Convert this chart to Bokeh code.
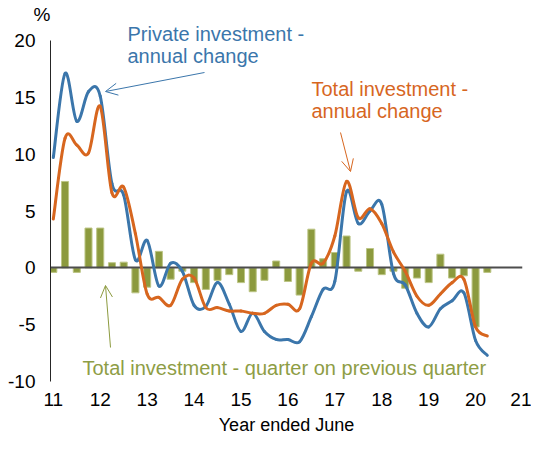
import numpy as np
from bokeh.plotting import figure
from bokeh.models import Range1d, FixedTicker, Label, Arrow, OpenHead, Title
from bokeh.embed import file_html
from bokeh.resources import INLINE

# ---------------- data ----------------
quarters = [11.0, 11.25, 11.5, 11.75, 12.0, 12.25, 12.5, 12.75,
            13.0, 13.25, 13.5, 13.75, 14.0, 14.25, 14.5, 14.75,
            15.0, 15.25, 15.5, 15.75, 16.0, 16.25, 16.5, 16.75,
            17.0, 17.25, 17.5, 17.75, 18.0, 18.25, 18.5, 18.75,
            19.0, 19.25, 19.5, 19.75, 20.0, 20.25]

# Total investment - quarter on previous quarter (%)
total_qoq = [-0.4, 7.6, -0.4, 3.5, 3.5, 0.45, 0.5, -2.2,
             -1.7, 1.45, -1.0, -0.3, -1.3, -1.9, -1.1, -0.6,
             -1.3, -2.1, -1.1, 0.6, -1.2, -2.4, 3.4, 0.8,
             1.35, 2.8, -0.3, 1.7, -0.6, -0.3, -1.8, -0.9,
             -1.3, 1.2, -0.9, -0.7, -5.2, -0.4]

# Private investment - annual change (%)
private_annual = [9.7, 17.1, 12.9, 15.5, 15.1, 7.4, 6.4, 0.7,
                  2.4, -1.6, 0.4, -0.3, -3.3, -3.4, -1.3, -3.2,
                  -5.6, -4.0, -5.6, -6.3, -6.3, -6.5, -4.3, -1.9,
                  -1.2, 6.7, 3.9, 5.0, 5.6, -0.5, -1.5, -4.0,
                  -5.2, -3.6, -2.9, -2.2, -6.4, -7.7]

# Total investment - annual change (%)
total_annual = [4.3, 11.4, 10.8, 10.1, 14.2, 6.6, 7.1, 3.0,
                -2.3, -2.6, -3.3, -1.0, -0.9, -3.5, -3.5, -3.8,
                -3.8, -4.0, -4.0, -3.3, -3.2, -3.6, 0.4, 0.4,
                2.8, 7.6, 4.4, 5.2, 3.9, 1.4, -0.3, -2.5,
                -3.3, -2.3, -1.3, -1.0, -5.2, -6.0]

x_ticks = [11, 12, 13, 14, 15, 16, 17, 18, 19, 20, 21]
y_ticks = [-10, -5, 0, 5, 10, 15, 20]

# ---------------- style / layout ----------------
BLUE = "#3B76AB"
ORANGE = "#D7661F"
GREEN = "#8C9A3E"
GREEN_TXT = "#8E9D45"
FONT = "Liberation Sans"

W, H = 531, 438
FL, FR = 50, 522          # frame left / right (px)
FT, FB = 24, 381          # frame top / bottom (px)
X0, X1 = 10.94, 21.0
Y20_PX = 40               # pixel row of the 20% level
PX_PER_UNIT = (FB - Y20_PX) / 30.0
Y0 = -10
Y1 = 20 + (Y20_PX - FT) / PX_PER_UNIT


def dx(px):
    return X0 + (px - FL) * (X1 - X0) / (FR - FL)


def dy(py):
    return 20 - (py - Y20_PX) / PX_PER_UNIT


def smooth_segments(xs, ys):
    """Bezier control points (Excel-like smoothing) passing through the data points."""
    x = np.asarray(xs, float)
    y = np.asarray(ys, float)
    n = len(x)
    xp = np.concatenate([[x[0]], x, [x[-1]]])
    yp = np.concatenate([[y[0]], y, [y[-1]]])
    cx0 = x[:-1] + (xp[2:n + 1] - xp[0:n - 1]) / 6.0
    cy0 = y[:-1] + (yp[2:n + 1] - yp[0:n - 1]) / 6.0
    cx1 = x[1:] - (xp[3:n + 2] - xp[1:n]) / 6.0
    cy1 = y[1:] - (yp[3:n + 2] - yp[1:n]) / 6.0
    return dict(x0=x[:-1], y0=y[:-1], x1=x[1:], y1=y[1:],
                cx0=cx0, cy0=cy0, cx1=cx1, cy1=cy1)


p = figure(width=W, height=H,
           x_range=Range1d(X0, X1), y_range=Range1d(Y0, Y1),
           output_backend="svg", toolbar_location=None,
           min_border_left=FL, min_border_right=W - FR,
           min_border_top=FT, min_border_bottom=H - FB)
p.outline_line_color = None
p.grid.visible = False
p.background_fill_color = "white"
p.border_fill_color = "white"

# "%" unit label as a title above the frame
p.title = Title(text="%", align="left", offset=-17, standoff=0,
                text_font=FONT, text_font_size="19px",
                text_font_style="normal", text_color="black")

# bars
p.vbar(x=quarters, top=total_qoq, bottom=0, width=0.15,
       fill_color=GREEN, line_color="#BCC585", line_width=1)

# zero line
p.hspan(y=[0], line_color="#4D4D4D", line_width=2)

# lines
seg_p = smooth_segments(quarters, private_annual)
p.bezier(**seg_p, line_color=BLUE, line_width=3, line_cap="round")
seg_t = smooth_segments(quarters, total_annual)
p.bezier(**seg_t, line_color=ORANGE, line_width=3, line_cap="round")

# axes
p.xaxis.ticker = FixedTicker(ticks=x_ticks)
p.xaxis.major_label_overrides = {t: str(t) for t in x_ticks}
p.xaxis.axis_line_color = None
p.xaxis.major_tick_line_color = None
p.xaxis.minor_tick_line_color = None
p.xaxis.major_tick_out = 0
p.xaxis.major_tick_in = 0
p.xaxis.minor_tick_out = 0
p.xaxis.major_label_text_font = FONT
p.xaxis.major_label_text_font_size = "19px"
p.xaxis.major_label_text_color = "black"
p.xaxis.major_label_standoff = 11
p.xaxis.axis_label = "Year ended June"
p.xaxis.axis_label_text_font = FONT
p.xaxis.axis_label_text_font_size = "18px"
p.xaxis.axis_label_text_font_style = "normal"
p.xaxis.axis_label_text_color = "black"
p.xaxis.axis_label_standoff = 6

p.yaxis.ticker = FixedTicker(ticks=y_ticks)
p.yaxis.bounds = (-10, 20)
p.yaxis.major_label_overrides = {t: str(t) for t in y_ticks}
p.yaxis.axis_line_color = "#262626"
p.yaxis.axis_line_width = 1
p.yaxis.major_tick_line_color = None
p.yaxis.minor_tick_line_color = None
p.yaxis.major_tick_out = 0
p.yaxis.major_tick_in = 0
p.yaxis.minor_tick_out = 0
p.yaxis.major_label_text_font = FONT
p.yaxis.major_label_text_font_size = "19px"
p.yaxis.major_label_text_color = "black"
p.yaxis.major_label_standoff = 15

# rendered label baselines sit ~8px below the requested row
LABEL_SHIFT = 8


# annotations (positions given in pixels, converted to data units)
def lab(px, py, text, color, size="20px"):
    p.add_layout(Label(x=dx(px), y=dy(py - LABEL_SHIFT), text=text,
                       text_color=color, text_font=FONT, text_font_size=size,
                       text_baseline="alphabetic", text_align="left"))


lab(127, 41, "Private investment -", BLUE)
lab(127, 63, "annual change", BLUE)
lab(311, 96, "Total investment -", ORANGE)
lab(311, 118, "annual change", ORANGE)
lab(82, 375, "Total investment - quarter on previous quarter", GREEN_TXT)


def arrow(px0, py0, px1, py1, color):
    p.add_layout(Arrow(end=OpenHead(size=12, line_color=color, line_width=1),
                       x_start=dx(px0), y_start=dy(py0),
                       x_end=dx(px1), y_end=dy(py1),
                       line_color=color, line_width=1))


arrow(204, 72, 105, 91, BLUE)
arrow(340, 132, 350, 171, ORANGE)
arrow(110, 347, 105, 285, GREEN)

open("out.html", "w").write(file_html(p, INLINE))
